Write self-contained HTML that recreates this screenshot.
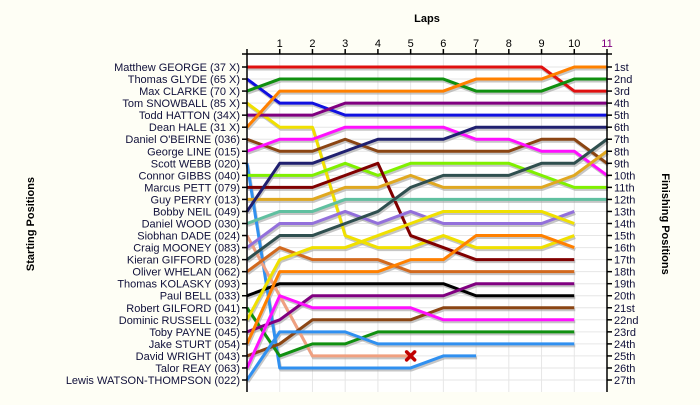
<!DOCTYPE html>
<html><head><meta charset="utf-8"><style>
html,body{margin:0;padding:0;background:#fefef5;}
svg{display:block;font-family:"Liberation Sans",sans-serif;}
</style></head><body>
<svg id="chart" width="700" height="405" viewBox="0 0 700 405"></svg>
<script>
const laps = [1,2,3,4,5,6,7,8,9,10,11];
const startNames = ["Matthew GEORGE (37 X)","Thomas GLYDE (65 X)","Max CLARKE (70 X)","Tom SNOWBALL (85 X)","Todd HATTON (34X)","Dean HALE (31 X)","Daniel O'BEIRNE (036)","George LINE (015)","Scott WEBB (020)","Connor GIBBS (040)","Marcus PETT (079)","Guy PERRY (013)","Bobby NEIL (049)","Daniel WOOD (030)","Siobhan DADE (024)","Craig MOONEY (083)","Kieran GIFFORD (028)","Oliver WHELAN (062)","Thomas KOLASKY (093)","Paul BELL (033)","Robert GILFORD (041)","Dominic RUSSELL (032)","Toby PAYNE (045)","Jake STURT (054)","David WRIGHT (043)","Talor REAY (063)","Lewis WATSON-THOMPSON (022)"];
const finishLabels = ["1st","2nd","3rd","4th","5th","6th","7th","8th","9th","10th","11th","12th","13th","14th","15th","16th","17th","18th","19th","20th","21st","22nd","23rd","24th","25th","26th","27th"];
const seriesColors = ["#e01010","#1010e0","#109010","#f0e000","#800080","#ff8000","#8b4513","#ff10ff","#3090f0","#80f000","#800000","#e0a820","#202070","#60c0a0","#f0a080","#9370db","#2f4f4f","#d2691e","#000000","#109010","#f0e000","#800080","#ff8000","#8b4513","#ff10ff","#3090f0"];
const seriesPositions = [
 [1,1,1,1,1,1,1,1,1,1,3,3],
 [2,4,4,5,5,5,5,5,5,5,5,5],
 [3,2,2,2,2,2,2,3,3,3,2,2],
 [4,6,6,15,16,16,15,16,16,16,15],
 [5,5,5,4,4,4,4,4,4,4,4,4],
 [6,3,3,3,3,3,3,2,2,2,1,1],
 [7,8,8,7,8,8,8,8,8,7,7,9],
 [8,7,7,6,6,6,6,7,7,8,8,10],
 [9,26,26,26,26,26,25,25],
 [10,10,10,9,10,9,9,9,9,10,11,11],
 [11,11,11,10,9,15,16,17,17,17,17],
 [12,12,12,11,11,10,11,11,11,11,10,8],
 [13,9,9,8,7,7,7,6,6,6,6,6],
 [14,13,13,12,12,12,12,12,12,12,12,12],
 [15,20,25,25,25,25],
 [16,14,14,13,14,13,14,14,14,14,13],
 [17,15,15,14,13,11,10,10,10,9,9,7],
 [18,16,17,17,17,18,18,18,18,18,18],
 [20,19,19,19,19,19,19,20,20,20,20],
 [21,25,24,24,23,23,23,23,23,23,23],
 [22,17,16,16,15,14,13,13,13,13,14],
 [23,22,20,20,20,20,20,19,19,19,19],
 [24,18,18,18,18,17,17,15,15,15,16],
 [25,24,22,22,22,22,21,21,21,21,21],
 [26,20,21,21,21,21,22,22,22,22,22],
 [27,23,23,23,24,24,24,24,24,24,24]
];
const retiredSeries = [14];

const NS="http://www.w3.org/2000/svg";
const svg=document.getElementById('chart');
const X0=247, X1=607, Y0=54, YB=392;
const xLap=l=>X0+(X1-X0)*l/11;
const yPos=p=>67+(p-1)*(380-67)/26;
function mk(tag,attrs,parent){const e=document.createElementNS(NS,tag);for(const k in attrs)e.setAttribute(k,attrs[k]);(parent||svg).appendChild(e);return e;}

const plot=mk('rect',{x:X0,y:Y0,width:X1-X0,height:YB-Y0,fill:'#ffffff'});


const grid=mk('g',{stroke:'#e6e6e6','stroke-width':1});


laps.forEach(l=>mk('line',{x1:xLap(l),x2:xLap(l),y1:Y0,y2:YB},grid));
finishLabels.forEach((f,i)=>mk('line',{x1:X0,x2:X1,y1:yPos(i+1),y2:yPos(i+1)},grid));

// series
const shadowG=mk('g',{fill:'none','stroke-width':3,stroke:'#a0a0a0','stroke-opacity':0.6,'stroke-linejoin':'round'});


const seriesG=mk('g',{fill:'none','stroke-width':3,'stroke-linejoin':'round'});


seriesPositions.forEach((ps,i)=>{
  const pts=ps.map((p,l)=>xLap(l)+','+yPos(p)).join(' ');
  const s=mk('polyline',{points:pts,transform:'translate(1,2)'},shadowG);
  
  
  const pl=mk('polyline',{points:pts,stroke:seriesColors[i]},seriesG);
  
  
});
retiredSeries.forEach(i=>{
  const ps=seriesPositions[i];const l=ps.length-1;
  const cx=xLap(l), cy=yPos(ps[l]);
  const g=mk('g',{stroke:'#c00000','stroke-width':3.5,'stroke-linecap':'round'});
  
  
  mk('line',{x1:cx-4,y1:cy-4,x2:cx+4,y2:cy+4},g);
  mk('line',{x1:cx-4,y1:cy+4,x2:cx+4,y2:cy-4},g);
});

// axes
const ax=mk('g',{stroke:'#000','stroke-width':1.5});


mk('line',{x1:X0,x2:X0,y1:Y0,y2:YB},ax);
mk('line',{x1:X0-5,x2:X1+5,y1:Y0,y2:Y0},ax);
mk('line',{x1:X1,x2:X1,y1:Y0,y2:YB},ax);
mk('line',{x1:X0,x2:X0,y1:Y0,y2:Y0-5},ax);
laps.forEach(l=>mk('line',{x1:xLap(l),x2:xLap(l),y1:Y0,y2:Y0-5},ax));
finishLabels.forEach((f,i)=>{mk('line',{x1:X0-5,x2:X0,y1:yPos(i+1),y2:yPos(i+1)},ax);mk('line',{x1:X1,x2:X1+5,y1:yPos(i+1),y2:yPos(i+1)},ax);});

laps.forEach((l,i)=>{
  const t=mk('text',{x:xLap(l),y:47,'text-anchor':'middle','font-size':11,fill:i===laps.length-1?'#800080':'#000'});
  t.textContent=l;
  
  
});
startNames.forEach((n,i)=>{
  const t=mk('text',{x:X0-7,y:yPos(i+1)+4,'text-anchor':'end','font-size':11,fill:'#10103a'});
  t.textContent=n;
  
  
});
finishLabels.forEach((n,i)=>{
  const t=mk('text',{x:X1+7,y:yPos(i+1)+4,'font-size':11,fill:'#10103a'});
  t.textContent=n;
  
  
});
const tt=mk('text',{x:427,y:22,'text-anchor':'middle','font-size':11,'font-weight':'bold'});
tt.textContent='Laps';


const ly=mk('text',{transform:'translate(34,224) rotate(-90)','text-anchor':'middle','font-size':11,'font-weight':'bold'});
ly.textContent='Starting Positions';


const ry=mk('text',{transform:'translate(662,224) rotate(90)','text-anchor':'middle','font-size':11,'font-weight':'bold'});
ry.textContent='Finishing Positions';


</script>
</body></html>
